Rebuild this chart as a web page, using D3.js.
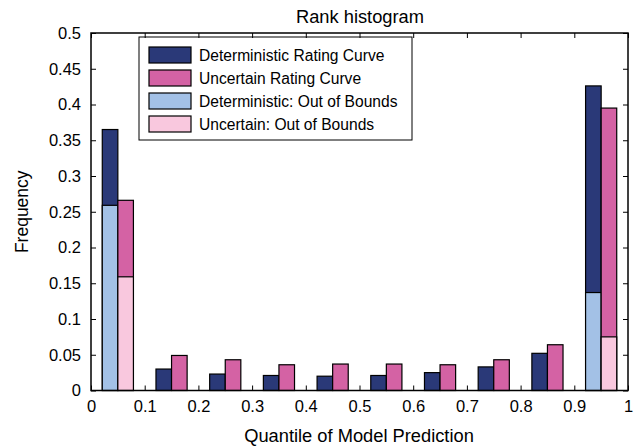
<!DOCTYPE html>
<html>
<head>
<meta charset="utf-8">
<script src="https://cdn.jsdelivr.net/npm/d3@7"></script>
<style>
body { margin: 0; background: #fff; }
text { font-family: "Liberation Sans", Arial, sans-serif; fill: #000; }
</style>
</head>
<body>
<script>
var w = 637;
var h = 447;

// data
var binCenters = [0.05, 0.15, 0.25, 0.35, 0.45, 0.55, 0.65, 0.75, 0.85, 0.95];
var detTotal = [0.365, 0.030, 0.023, 0.021, 0.020, 0.021, 0.025, 0.033, 0.052, 0.426];
var uncTotal = [0.266, 0.049, 0.043, 0.036, 0.037, 0.037, 0.036, 0.043, 0.064, 0.395];
var detOut = [0.259, 0, 0, 0, 0, 0, 0, 0, 0, 0.137];
var uncOut = [0.159, 0, 0, 0, 0, 0, 0, 0, 0, 0.075];
var xTicks = [0, 0.1, 0.2, 0.3, 0.4, 0.5, 0.6, 0.7, 0.8, 0.9, 1];
var yTicks = [0, 0.05, 0.1, 0.15, 0.2, 0.25, 0.3, 0.35, 0.4, 0.45, 0.5];
var legendLabels = ["Deterministic Rating Curve", "Uncertain Rating Curve",
                    "Deterministic: Out of Bounds", "Uncertain: Out of Bounds"];
var colors = ["#2a3978", "#d462a4", "#a3c1e6", "#f9c8de"];

var barW = 0.029; // width of one bar in x units

var mLeft = 91, mRight = 628, mTop = 33, mBottom = 390.5;

var x = d3.scaleLinear().domain([0, 1]).range([mLeft, mRight]);
var y = d3.scaleLinear().domain([0, 0.5]).range([mBottom, mTop]);

var svg = d3.select("body").append("svg")
    .attr("width", w)
    .attr("height", h);

// bars: each bin has a deterministic bar (left) and an uncertain bar (right)
var layers = [
  {vals: detTotal, off: -barW, color: colors[0]},
  {vals: detOut, off: -barW, color: colors[2]},
  {vals: uncTotal, off: 0, color: colors[1]},
  {vals: uncOut, off: 0, color: colors[3]}
];

layers.forEach(function(l){
  svg.append("g").selectAll("rect")
    .data(binCenters.map(function(c, i){ return {c: c, v: l.vals[i]}; }).filter(function(d){ return d.v > 0; }))
    .enter().append("rect")
    .attr("x", function(d){ return x(d.c + l.off); })
    .attr("width", function(d){ return x(d.c + l.off + barW) - x(d.c + l.off); })
    .attr("y", function(d){ return y(d.v); })
    .attr("height", function(d){ return y(0) - y(d.v); })
    .attr("fill", l.color)
    .attr("stroke", "#000")
    .attr("stroke-width", 1.2);
});

// legend (drawn before the axes so the top ticks sit over it)
var lg = svg.append("g");
lg.append("rect")
    .attr("x", 139).attr("y", 37)
    .attr("width", 273).attr("height", 103)
    .attr("fill", "#fff").attr("stroke", "#000").attr("stroke-width", 1);
legendLabels.forEach(function(t, i){
  lg.append("rect")
    .attr("x", 149).attr("y", 47 + i * 23)
    .attr("width", 42).attr("height", 16)
    .attr("fill", colors[i]).attr("stroke", "#000").attr("stroke-width", 1.2);
  lg.append("text")
    .attr("x", 199).attr("y", 61 + i * 23)
    .style("font-size", "15.6px")
    .text(t);
});

// axes with inward ticks on all sides
var tick = 5;
var xAxisB = d3.axisBottom(x).tickValues(xTicks).tickSizeInner(-tick).tickSizeOuter(0).tickPadding(10)
    .tickFormat(function(d){ return d === 0 || d === 1 ? d : d3.format(".1f")(d); });
var xAxisT = d3.axisTop(x).tickValues(xTicks).tickSizeInner(-tick).tickSizeOuter(0).tickFormat("");
var yAxisL = d3.axisLeft(y).tickValues(yTicks).tickSizeInner(-tick).tickSizeOuter(0).tickPadding(10)
    .tickFormat(function(d){ return d === 0 ? "0" : String(+d.toFixed(2)); });
var yAxisR = d3.axisRight(y).tickValues(yTicks).tickSizeInner(-tick).tickSizeOuter(0).tickFormat("");

var gB = svg.append("g").attr("transform", "translate(0," + mBottom + ")").call(xAxisB);
var gT = svg.append("g").attr("transform", "translate(0," + mTop + ")").call(xAxisT);
var gL = svg.append("g").attr("transform", "translate(" + mLeft + ",0)").call(yAxisL);
var gR = svg.append("g").attr("transform", "translate(" + mRight + ",0)").call(yAxisR);

[gB, gT, gL, gR].forEach(function(g){
  g.attr("font-size", 16.5).attr("font-family", "'Liberation Sans', Arial, sans-serif");
  g.select(".domain").remove();
  g.selectAll("line").attr("stroke", "#000").attr("stroke-width", 1);
  g.selectAll("text").attr("fill", "#000");
});

svg.append("rect")
    .attr("x", mLeft).attr("y", mTop)
    .attr("width", mRight - mLeft).attr("height", mBottom - mTop)
    .attr("fill", "none").attr("stroke", "#000").attr("stroke-width", 1.5);

// titles
svg.append("text")
    .attr("x", 360).attr("y", 23)
    .attr("text-anchor", "middle")
    .style("font-size", "18.3px")
    .text("Rank histogram");

svg.append("text")
    .attr("x", 359).attr("y", 442)
    .attr("text-anchor", "middle")
    .style("font-size", "18.3px")
    .text("Quantile of Model Prediction");

svg.append("text")
    .attr("transform", "translate(28," + ((mTop + mBottom) / 2) + ") rotate(-90)")
    .attr("text-anchor", "middle")
    .style("font-size", "17.5px")
    .text("Frequency");
</script>
</body>
</html>
